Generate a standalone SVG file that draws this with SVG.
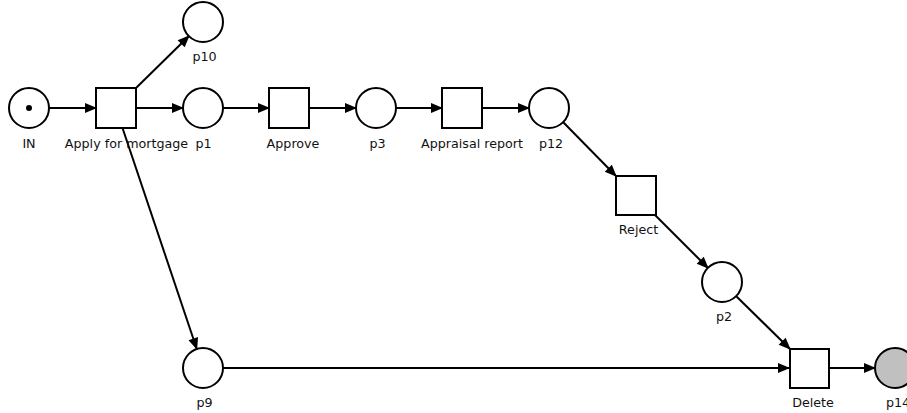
<svg xmlns="http://www.w3.org/2000/svg" width="907" height="413" viewBox="0 0 907 413">
<style>
.place{fill:#ffffff;stroke:#000;stroke-width:2}
.trans{fill:#ffffff;stroke:#000;stroke-width:2}
.final{fill:#c0c0c0;stroke:#000;stroke-width:2}
.lbl{font-family:"DejaVu Sans",sans-serif;font-size:12.7px;fill:#111;text-anchor:middle}
.arc{stroke:#000;stroke-width:2;fill:none;marker-end:url(#ah)}
</style>
<defs>
<marker id="ah" markerUnits="userSpaceOnUse" markerWidth="14" markerHeight="12" viewBox="0 -6 12 12" refX="11" refY="0" orient="auto">
<path d="M0,-5 L12,0 L0,5 z" fill="#000"/>
</marker>
</defs>
<rect width="907" height="413" fill="#ffffff"/>
<g id="connectors">
<line class="arc" x1="49" y1="108" x2="96" y2="108"/>
<line class="arc" x1="136" y1="88" x2="189" y2="36"/>
<line class="arc" x1="136" y1="108" x2="183" y2="108"/>
<line class="arc" x1="122.5" y1="128" x2="196.8" y2="349"/>
<line class="arc" x1="223" y1="108" x2="269" y2="108"/>
<line class="arc" x1="309" y1="108" x2="356" y2="108"/>
<line class="arc" x1="396" y1="108" x2="442" y2="108"/>
<line class="arc" x1="482" y1="108" x2="529" y2="108"/>
<line class="arc" x1="563" y1="122" x2="616" y2="176"/>
<line class="arc" x1="655" y1="215" x2="708" y2="268"/>
<line class="arc" x1="736" y1="296" x2="790" y2="349"/>
<line class="arc" x1="223" y1="368" x2="789" y2="368"/>
<line class="arc" x1="829" y1="368" x2="875" y2="368"/>
</g>
<g id="IN">
<circle class="place" cx="29" cy="108" r="20"/>
<circle cx="29" cy="108" r="3" fill="#000"/>
<text class="lbl" x="29" y="147.5">IN</text>
</g>
<g id="apply">
<rect class="trans" x="96" y="88" width="40" height="40"/>
<text class="lbl" x="126.5" y="147.5">Apply for mortgage</text>
</g>
<g id="p10">
<circle class="place" cx="203" cy="22" r="20"/>
<text class="lbl" x="204.5" y="61">p10</text>
</g>
<g id="p1">
<circle class="place" cx="203" cy="108" r="20"/>
<text class="lbl" x="203.5" y="147.5">p1</text>
</g>
<g id="approve">
<rect class="trans" x="269" y="88" width="40" height="40"/>
<text class="lbl" x="293" y="147.5">Approve</text>
</g>
<g id="p3">
<circle class="place" cx="376" cy="108" r="20"/>
<text class="lbl" x="377.5" y="147.5">p3</text>
</g>
<g id="appraisal">
<rect class="trans" x="442" y="88" width="40" height="40"/>
<text class="lbl" x="472" y="147.5">Appraisal report</text>
</g>
<g id="p12">
<circle class="place" cx="549" cy="108" r="20"/>
<text class="lbl" x="551" y="147.5">p12</text>
</g>
<g id="reject">
<rect class="trans" x="616" y="176" width="40" height="39"/>
<text class="lbl" x="638.5" y="234">Reject</text>
</g>
<g id="p2">
<circle class="place" cx="722" cy="282" r="20"/>
<text class="lbl" x="724" y="321">p2</text>
</g>
<g id="p9">
<circle class="place" cx="203" cy="368" r="20"/>
<text class="lbl" x="204.5" y="407">p9</text>
</g>
<g id="delete">
<rect class="trans" x="790" y="349" width="39" height="39"/>
<text class="lbl" x="813" y="407">Delete</text>
</g>
<g id="p14">
<circle class="final" cx="895" cy="368" r="20"/>
<text class="lbl" x="898" y="407">p14</text>
</g>
</svg>
